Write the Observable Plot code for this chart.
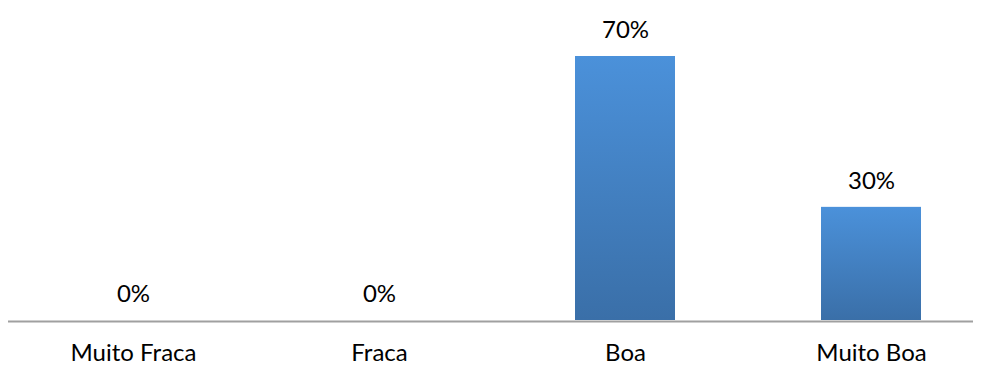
<!DOCTYPE html>
<html>
<head>
<meta charset="utf-8">
<script src="https://cdn.jsdelivr.net/npm/d3@7"></script>
<script src="https://cdn.jsdelivr.net/npm/@observablehq/plot@0.6"></script>
<style>
  html, body { margin: 0; padding: 0; background: #ffffff; }
  #chart svg { display: block; }
</style>
</head>
<body>
<div id="chart"></div>
<script>
const categories = ["Muito Fraca", "Fraca", "Boa", "Muito Boa"];
const values = [0, 0, 70, 30];
const valueLabels = ["0%", "0%", "70%", "30%"];

const data = categories.map((c, i) => ({category: c, value: values[i], label: valueLabels[i]}));

const FONT = 24;
const plot = Plot.plot({
  width: 981,
  height: 365,
  marginLeft: 8,
  marginRight: 8,
  marginTop: 0,
  marginBottom: 45,
  style: {fontFamily: "Lato, sans-serif", background: "#ffffff", color: "#000000"},
  x: {domain: categories, range: [7.5, 995.5], paddingInner: 0.595, paddingOuter: 0.2976, axis: null},
  y: {domain: [0, 70], range: [320, 56], axis: null},
  marks: [
    Plot.barY(data, {x: "category", y: "value", fill: "url(#barGrad)", filter: d => d.value > 0,
      style: "filter:url(#barShadow)"}),
    Plot.ruleY([0], {stroke: "#a0a0a0", strokeWidth: 2, dy: 1}),
    Plot.text(data, {x: "category", y: "value", text: "label", fontSize: FONT, fill: "#000000",
      lineAnchor: "middle", dy: -26.5}),
    Plot.text(data, {x: "category", y: () => 0, text: "category", fontSize: FONT, fill: "#000000",
      lineAnchor: "middle", dy: 33})
  ]
});

const svg = d3.select(plot);
const defs = svg.insert("defs", ":first-child");
const grad = defs.append("linearGradient").attr("id", "barGrad")
  .attr("x1", 0).attr("y1", 0).attr("x2", 0).attr("y2", 1);
grad.append("stop").attr("offset", "0%").attr("stop-color", "#4b91da");
grad.append("stop").attr("offset", "100%").attr("stop-color", "#3a6fa8");
const f = defs.append("filter").attr("id", "barShadow")
  .attr("x", "-10%").attr("y", "-10%").attr("width", "130%").attr("height", "130%");
f.append("feDropShadow").attr("dx", 2).attr("dy", 2).attr("stdDeviation", 2)
  .attr("flood-color", "#000000").attr("flood-opacity", 0.2);

document.getElementById("chart").appendChild(plot);
</script>
</body>
</html>
